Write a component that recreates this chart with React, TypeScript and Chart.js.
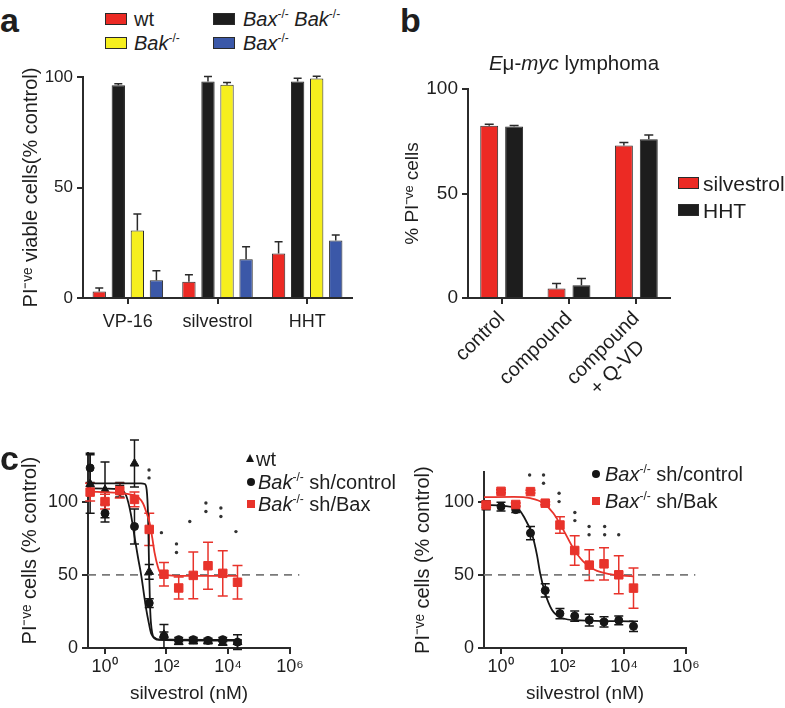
import React, { useEffect, useRef } from 'react';
import { Chart, registerables } from 'chart.js';
Chart.register(...registerables);

const FONT = '"Liberation Sans", Arial, Helvetica, sans-serif';
const AXIS = '#2b2b2b';
const TXT = '#1e1e1e';
const RED = '#ec2a24';
const YELLOW = '#f6ef1e';
const BLUE = '#3b58a8';
const BLACK = '#1d1d1d';
const EDGE = '#2a2a2a';
const SC_RED = '#e8332b';
const SC_BLACK = '#161616';

// ---------- Panel a ----------
const aCategories = ['VP-16', 'silvestrol', 'HHT'];
const aWt = [2.9, 7.4, 20.1];
const aWtErr = [1.6, 3.1, 5.3];
const aDko = [96.3, 98, 98];
const aDkoErr = [0.6, 2.2, 1.4];
const aBak = [30.5, 96.5, 99.3];
const aBakErr = [7.5, 1.0, 1.0];
const aBax = [8, 17.5, 26];
const aBaxErr = [4.3, 5.7, 2.5];
const aYTicks = [0, 50, 100];

// ---------- Panel b ----------
const bCategories = [['control'], ['compound'], ['compound', '+ Q-VD   ']];
const bSilvestrol = [82.4, 4.5, 73];
const bSilvestrolErr = [0.7, 2.4, 1.4];
const bHHT = [82.1, 6.1, 76];
const bHHTErr = [0.4, 3.2, 2];
const bYTicks = [0, 50, 100];

// ---------- Panel c (shared) ----------
const cConc = [0.34, 1.03, 3.09, 9.26, 27.8, 83.3, 250, 741, 2222, 6667, 20000];
const cXTickValues = [1, 100, 10000, 1000000];
const cXTickLabels = ['10⁰', '10²', '10⁴', '10⁶'];
const cYTicks = [0, 50, 100];
const cThresholdX = [0.29, 2000000];
const cThresholdY = [50, 50];

// c left
const cLeftWt = [112, 108, 108, 126, 52, 9, 4, 4.5, 4.5, 3.5, 4];
const cLeftWtErr = [20, 19, 5, 16, 5, 2, 1.5, 1.5, 1.5, 1.5, 1.5];
const cLeftCtrl = [123, 92, 107, 83, 30.7, 8, 5.7, 5.7, 5.2, 5.7, 4];
const cLeftCtrlErr = [10, 6, 4, 12, 3, 8, 1.5, 1.5, 1.5, 1.5, 5];
const cLeftBax = [106.5, 100, 107.5, 101.5, 81, 50.4, 41, 49.6, 56.2, 51, 44.9];
const cLeftBaxErr = [6, 5, 5, 5, 11, 8, 7.5, 16, 16, 15.5, 11.5];
const cLeftWtFitX = [0.29, 15, 20, 23, 25.5, 27.5, 30, 35, 42, 60, 20000];
const cLeftWtFitY = [112.5, 112.5, 112, 108, 90, 55, 25, 10, 6.5, 5.5, 5];
const cLeftCtrlFitX = [0.29, 3, 5, 7, 9.3, 12, 15.5, 19, 22.4, 27, 32, 45, 60, 20000];
const cLeftCtrlFitY = [109, 108.5, 104, 92, 76, 62, 49, 36, 26, 17, 10, 6.5, 5.8, 5.5];
const cLeftBaxFitX = [0.29, 9, 17.4, 23, 28.8, 35, 41.7, 52, 60, 100, 300, 20000];
const cLeftBaxFitY = [106.8, 104.5, 98.9, 92, 85.2, 75, 64.8, 56, 52.3, 50, 49.3, 49.3];
const cLeftStarsX = [27.4, 27.4, 69, 212, 212, 570, 1900, 1900, 5800, 5800, 17800];
const cLeftStarsY = [121.6, 116.2, 78.8, 71.1, 65.2, 86.4, 99.1, 93.2, 95.6, 89.8, 79.5];

// c right
const cRightCtrl = [97.5, 96.5, 94.5, 78.5, 39.3, 23.5, 21.8, 19, 17.8, 18.9, 14.8];
const cRightCtrlErr = [3, 3, 2, 4.5, 4.5, 3.5, 3.5, 4, 3.5, 3, 3.5];
const cRightBak = [97.7, 107, 98, 106.8, 98.9, 84, 66.6, 56.6, 57.5, 50, 40.9];
const cRightBakErr = [1.5, 1, 1, 1, 1, 5.7, 10, 10.5, 11, 13, 13.8];
const cRightCtrlFitX = [0.29, 3.4, 5.6, 10.5, 15, 19, 27.5, 45.7, 95, 363, 20000];
const cRightCtrlFitY = [97.7, 95.5, 89.8, 77.3, 63.6, 51.1, 37.5, 26.1, 20.5, 18.9, 18.2];
const cRightBakFitX = [0.29, 2.7, 9.1, 24.5, 51, 107, 224, 468, 1100, 3400, 20000];
const cRightBakFitY = [103, 103.2, 102.3, 98.9, 92, 80.7, 68.2, 59.1, 53.4, 50.5, 48.9];
const cRightStarsX = [8.7, 24.5, 24.5, 78, 78, 253, 253, 730, 730, 2330, 2330, 6640];
const cRightStarsY = [118.2, 118.2, 112.5, 105.7, 100, 92.5, 87, 83, 77.3, 83, 77.3, 77.3];

const zip = (xs: number[], ys: number[]) => xs.map((x, i) => ({ x, y: ys[i] }));

type ErrSpec = { ds: number; err: number[]; color: string; cap: number; lw: number; upOnly?: boolean };

function makeErrPlugin(specs: ErrSpec[], before: boolean) {
  const draw = (chart: any) => {
    const ctx = chart.ctx;
    const yScale = chart.scales.y;
    ctx.save();
    for (const s of specs) {
      const meta = chart.getDatasetMeta(s.ds);
      const data = chart.data.datasets[s.ds].data;
      meta.data.forEach((el: any, i: number) => {
        const raw = data[i];
        const v = typeof raw === 'number' ? raw : raw.y;
        const e = s.err[i];
        if (!e) return;
        const x = el.x;
        const yTop = yScale.getPixelForValue(v + e);
        const yBot = s.upOnly ? el.y : yScale.getPixelForValue(v - e);
        ctx.strokeStyle = s.color;
        ctx.lineWidth = s.lw;
        ctx.beginPath();
        ctx.moveTo(x, yBot);
        ctx.lineTo(x, yTop);
        ctx.moveTo(x - s.cap / 2, yTop);
        ctx.lineTo(x + s.cap / 2, yTop);
        if (!s.upOnly) {
          ctx.moveTo(x - s.cap / 2, yBot);
          ctx.lineTo(x + s.cap / 2, yBot);
        }
        ctx.stroke();
      });
    }
    ctx.restore();
  };
  return before ? { id: 'errbars', beforeDatasetsDraw: draw } : { id: 'errbars', afterDatasetsDraw: draw };
}

const axisStyle = (size: number) => ({
  border: { display: true, color: AXIS, width: 2 },
  grid: { display: true, drawOnChartArea: false, drawTicks: true, tickLength: 6, color: AXIS, lineWidth: 2 },
  ticks: { color: TXT, font: { family: FONT, size } },
});

const fixY = (w: number) => (s: any) => {
  s.width = w;
  s.paddingTop = 0;
  s.paddingBottom = 0;
  s.paddingLeft = 0;
  s.paddingRight = 0;
};
const fixX = (h: number) => (s: any) => {
  s.height = h;
  s.paddingLeft = 0;
  s.paddingRight = 0;
  s.paddingTop = 0;
  s.paddingBottom = 0;
};

function ChartBox({ left, top, width, height, make }: any) {
  const ref = useRef<HTMLCanvasElement>(null);
  useEffect(() => {
    const chart = new Chart(ref.current as HTMLCanvasElement, make());
    return () => chart.destroy();
  }, []);
  return (
    <canvas
      ref={ref}
      width={width}
      height={height}
      style={{ position: 'absolute', left, top, width, height }}
    />
  );
}

// ---------- configs ----------
const makeA = (): any => ({
  type: 'bar',
  data: {
    labels: aCategories,
    datasets: [
      { label: 'wt', data: aWt, backgroundColor: RED },
      { label: 'Bax-/- Bak-/-', data: aDko, backgroundColor: BLACK },
      { label: 'Bak-/-', data: aBak, backgroundColor: YELLOW },
      { label: 'Bax-/-', data: aBax, backgroundColor: BLUE },
    ].map((d) => ({ ...d, borderColor: EDGE, borderWidth: 1, barPercentage: 0.7, categoryPercentage: 0.85 })),
  },
  options: {
    responsive: false,
    animation: false,
    layout: { padding: { left: 0, top: 17, right: 20, bottom: 0 } },
    plugins: { legend: { display: false }, tooltip: { enabled: false } },
    scales: {
      x: {
        ...axisStyle(18),
        grid: { ...axisStyle(18).grid, offset: false },
        ticks: { ...axisStyle(18).ticks, padding: 7 },
        afterFit: fixX(62),
      },
      y: {
        ...axisStyle(17),
        min: 0,
        max: 100,
        ticks: { ...axisStyle(17).ticks, padding: 4 },
        afterBuildTicks: (s: any) => { s.ticks = aYTicks.map((v) => ({ value: v })); },
        afterFit: fixY(83),
        title: { display: true, text: 'PI⁻ᵛᵉ viable cells(% control)', color: TXT, font: { family: FONT, size: 20 }, padding: { top: 19, bottom: 0 } },
      },
    },
  },
  plugins: [
    makeErrPlugin(
      [
        { ds: 0, err: aWtErr, color: EDGE, cap: 8, lw: 1.5, upOnly: true },
        { ds: 1, err: aDkoErr, color: EDGE, cap: 8, lw: 1.5, upOnly: true },
        { ds: 2, err: aBakErr, color: EDGE, cap: 8, lw: 1.5, upOnly: true },
        { ds: 3, err: aBaxErr, color: EDGE, cap: 8, lw: 1.5, upOnly: true },
      ],
      false
    ),
  ],
});

const makeB = (): any => ({
  type: 'bar',
  data: {
    labels: bCategories,
    datasets: [
      { label: 'silvestrol', data: bSilvestrol, backgroundColor: RED },
      { label: 'HHT', data: bHHT, backgroundColor: BLACK },
    ].map((d) => ({ ...d, borderColor: EDGE, borderWidth: 1, barPercentage: 0.72, categoryPercentage: 0.74 })),
  },
  options: {
    responsive: false,
    animation: false,
    layout: { padding: { left: 0, top: 29, right: 115, bottom: 0 } },
    plugins: { legend: { display: false }, tooltip: { enabled: false } },
    scales: {
      x: {
        ...axisStyle(20),
        grid: { ...axisStyle(20).grid, offset: false },
        ticks: { ...axisStyle(20).ticks, padding: 3, minRotation: 45, maxRotation: 45, autoSkip: false },
        afterFit: fixX(107),
      },
      y: {
        ...axisStyle(19),
        min: 0,
        max: 100,
        ticks: { ...axisStyle(19).ticks, padding: 4 },
        afterBuildTicks: (s: any) => { s.ticks = bYTicks.map((v) => ({ value: v })); },
        afterFit: fixY(68),
        title: { display: true, text: '% PI⁻ᵛᵉ cells', color: TXT, font: { family: FONT, size: 19 }, padding: { top: 1, bottom: 0 } },
      },
    },
  },
  plugins: [
    makeErrPlugin(
      [
        { ds: 0, err: bSilvestrolErr, color: EDGE, cap: 9, lw: 1.5, upOnly: true },
        { ds: 1, err: bHHTErr, color: EDGE, cap: 9, lw: 1.5, upOnly: true },
      ],
      false
    ),
  ],
});

const lineDs = (xs: number[], ys: number[], color: string, order: number) => ({
  data: zip(xs, ys),
  showLine: true,
  borderColor: color,
  borderWidth: 1.8,
  pointRadius: 0,
  cubicInterpolationMode: 'monotone',
  clip: false,
  order,
});
const pointDs = (ys: number[], color: string, style: string, radius: number, order: number) => ({
  data: zip(cConc, ys),
  showLine: false,
  backgroundColor: color,
  borderColor: color,
  borderWidth: 1,
  pointStyle: style,
  pointRadius: radius,
  clip: false,
  order,
});
const starDs = (xs: number[], ys: number[]) => ({
  data: zip(xs, ys),
  showLine: false,
  backgroundColor: '#333',
  borderColor: '#333',
  pointRadius: 1.7,
  borderWidth: 0,
  clip: false,
  order: 0,
});
const thresholdDs = () => ({
  data: zip(cThresholdX, cThresholdY),
  showLine: true,
  borderColor: '#7a7a7a',
  borderWidth: 1.8,
  borderDash: [8, 6],
  pointRadius: 0,
  clip: false,
  order: 20,
});

const cScales = (yMax: number, yWidth: number, titlePad: number) => ({
  x: {
    ...axisStyle(18),
    type: 'logarithmic',
    min: 0.29,
    max: 1000000,
    ticks: { ...axisStyle(18).ticks, padding: 2, autoSkip: false, maxRotation: 0, callback: (_v: any, i: number) => cXTickLabels[i] },
    afterBuildTicks: (s: any) => { s.ticks = cXTickValues.map((v) => ({ value: v })); },
    afterFit: fixX(60),
    title: { display: true, text: 'silvestrol (nM)', color: TXT, font: { family: FONT, size: 19 }, padding: { top: 0, bottom: 3 } },
  },
  y: {
    ...axisStyle(18),
    min: 0,
    max: yMax,
    ticks: { ...axisStyle(18).ticks, padding: 4 },
    afterBuildTicks: (s: any) => { s.ticks = cYTicks.map((v) => ({ value: v })); },
    afterFit: fixY(yWidth),
    title: { display: true, text: 'PI⁻ᵛᵉ cells (% control)', color: TXT, font: { family: FONT, size: 20 }, padding: { top: titlePad, bottom: 0 } },
  },
});

const makeCLeft = (): any => ({
  type: 'scatter',
  data: {
    datasets: [
      thresholdDs(),
      lineDs(cLeftWtFitX, cLeftWtFitY, SC_BLACK, 10),
      lineDs(cLeftCtrlFitX, cLeftCtrlFitY, SC_BLACK, 9),
      pointDs(cLeftWt, SC_BLACK, 'triangle', 5, 8),
      pointDs(cLeftCtrl, SC_BLACK, 'circle', 4, 7),
      lineDs(cLeftBaxFitX, cLeftBaxFitY, SC_RED, 6),
      pointDs(cLeftBax, SC_RED, 'rect', 6, 5),
      starDs(cLeftStarsX, cLeftStarsY),
    ],
  },
  options: {
    responsive: false,
    animation: false,
    layout: { padding: { left: 0, top: 23.3, right: 15, bottom: 0 } },
    plugins: { legend: { display: false }, tooltip: { enabled: false } },
    scales: cScales(133, 88, 18),
  },
  plugins: [
    makeErrPlugin(
      [
        { ds: 3, err: cLeftWtErr, color: SC_BLACK, cap: 9, lw: 1.5 },
        { ds: 4, err: cLeftCtrlErr, color: SC_BLACK, cap: 9, lw: 1.5 },
        { ds: 6, err: cLeftBaxErr, color: SC_RED, cap: 10, lw: 1.5 },
      ],
      true
    ),
  ],
});

const makeCRight = (): any => ({
  type: 'scatter',
  data: {
    datasets: [
      thresholdDs(),
      lineDs(cRightCtrlFitX, cRightCtrlFitY, SC_BLACK, 10),
      pointDs(cRightCtrl, SC_BLACK, 'circle', 4, 8),
      lineDs(cRightBakFitX, cRightBakFitY, SC_RED, 6),
      pointDs(cRightBak, SC_RED, 'rect', 6, 5),
      starDs(cRightStarsX, cRightStarsY),
    ],
  },
  options: {
    responsive: false,
    animation: false,
    layout: { padding: { left: 0, top: 42.3, right: 14, bottom: 0 } },
    plugins: { legend: { display: false }, tooltip: { enabled: false } },
    scales: cScales(120, 88, 15),
  },
  plugins: [
    makeErrPlugin(
      [
        { ds: 2, err: cRightCtrlErr, color: SC_BLACK, cap: 9, lw: 1.5 },
        { ds: 4, err: cRightBakErr, color: SC_RED, cap: 10, lw: 1.5 },
      ],
      true
    ),
  ],
});

// ---------- HTML text helpers ----------
function Txt({ x, cy, size, children, bold, center }: any) {
  return (
    <div
      style={{
        position: 'absolute',
        left: x,
        top: cy - 0.4885 * size,
        fontSize: size,
        lineHeight: 1,
        fontFamily: FONT,
        fontWeight: bold ? 700 : 400,
        whiteSpace: 'nowrap',
        color: TXT,
        transform: center ? 'translateX(-50%)' : undefined,
      }}
    >
      {children}
    </div>
  );
}
const Sup = ({ children }: any) => (
  <sup style={{ fontSize: '0.6em', verticalAlign: '0.7em', lineHeight: 0 }}>{children}</sup>
);
const Box = ({ x, y, w, h, color }: any) => (
  <div style={{ position: 'absolute', left: x, top: y, width: w, height: h, background: color, border: `1.5px solid ${EDGE}`, boxSizing: 'border-box' }} />
);
const Dot = ({ cx, cy, d, color }: any) => (
  <div style={{ position: 'absolute', left: cx - d / 2, top: cy - d / 2, width: d, height: d, borderRadius: '50%', background: color }} />
);
const Sq = ({ cx, cy, d, color }: any) => (
  <div style={{ position: 'absolute', left: cx - d / 2, top: cy - d / 2, width: d, height: d, background: color }} />
);
const Tri = ({ cx, cy, s, color }: any) => (
  <div style={{ position: 'absolute', left: cx - s / 2, top: cy - s / 2, width: 0, height: 0, borderLeft: `${s / 2}px solid transparent`, borderRight: `${s / 2}px solid transparent`, borderBottom: `${s}px solid ${color}` }} />
);

export default function App() {
  return (
    <div style={{ position: 'absolute', left: 0, top: 0, width: 785, height: 708, background: '#fff', overflow: 'hidden' }}>
      {/* Panel a */}
      <ChartBox left={0} top={60} width={372} height={300} make={makeA} />
      <Txt x={0} cy={20} size={34} bold>a</Txt>
      <Box x={105} y={13} w={22} h={12} color={RED} />
      <Txt x={134} cy={19} size={20}>wt</Txt>
      <Box x={105} y={37} w={22} h={12} color={YELLOW} />
      <Txt x={134} cy={43} size={20}><i>Bak</i><Sup>-/-</Sup></Txt>
      <Box x={213} y={13} w={22} h={12} color={BLACK} />
      <Txt x={243} cy={19} size={20}><i>Bax</i><Sup>-/-</Sup> <i>Bak</i><Sup>-/-</Sup></Txt>
      <Box x={213} y={37} w={22} h={12} color={BLUE} />
      <Txt x={243} cy={43} size={20}><i>Bax</i><Sup>-/-</Sup></Txt>

      {/* Panel b */}
      <ChartBox left={400} top={60} width={385} height={345} make={makeB} />
      <Txt x={400} cy={20} size={34} bold>b</Txt>
      <Txt x={574} cy={63} size={20.5} center><i>E</i>μ-<i>myc</i> lymphoma</Txt>
      <Box x={678} y={177} w={21} h={12} color={RED} />
      <Txt x={703} cy={183} size={21}>silvestrol</Txt>
      <Box x={678} y={204} w={21} h={12} color={BLACK} />
      <Txt x={703} cy={210} size={21}>HHT</Txt>

      {/* Panel c */}
      <ChartBox left={0} top={430} width={305} height={278} make={makeCLeft} />
      <ChartBox left={396} top={430} width={304} height={278} make={makeCRight} />
      <Txt x={0} cy={458} size={34} bold>c</Txt>
      <Tri cx={250} cy={458} s={8} color={SC_BLACK} />
      <Txt x={256} cy={459} size={20}>wt</Txt>
      <Dot cx={251} cy={481.5} d={8} color={SC_BLACK} />
      <Txt x={258} cy={481.5} size={20}><i>Bak</i><Sup>-/-</Sup> sh/control</Txt>
      <Sq cx={251} cy={503.5} d={8} color={SC_RED} />
      <Txt x={258} cy={503.5} size={20}><i>Bak</i><Sup>-/-</Sup> sh/Bax</Txt>
      <Dot cx={596} cy={474} d={8} color={SC_BLACK} />
      <Txt x={605} cy={474} size={20}><i>Bax</i><Sup>-/-</Sup> sh/control</Txt>
      <Sq cx={596} cy={500.7} d={8} color={SC_RED} />
      <Txt x={605} cy={500.7} size={20}><i>Bax</i><Sup>-/-</Sup> sh/Bak</Txt>
    </div>
  );
}
